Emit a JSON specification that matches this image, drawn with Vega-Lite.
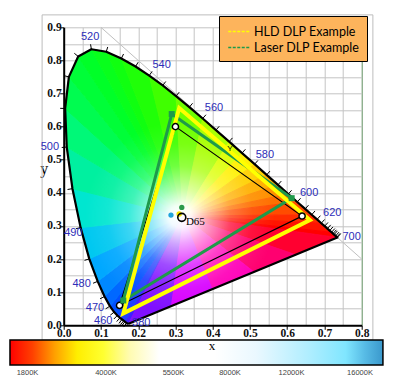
{
  "$schema": "https://vega.github.io/schema/vega-lite/v6.json",
  "width": 298,
  "height": 298,
  "autosize": {"type": "none"},
  "padding": {"left": 63.7, "top": 27.3, "right": 38.3, "bottom": 66.7},
  "background": "white",
  "config": {
    "view": {"stroke": null},
    "axis": {
      "labelFont": "Liberation Serif",
      "labelFontSize": 11.5,
      "labelFontWeight": "bold",
      "labelColor": "#111111",
      "labelPadding": -1.5,
      "labelOverlap": false,
      "labelFlush": false,
      "labelBound": false,
      "tickSize": 4,
      "tickColor": "#000000",
      "domainColor": "#000000",
      "domainWidth": 2,
      "gridWidth": 1
    }
  },
  "datasets": {
    "boxes": [
      {"b":"frame","x":-0.058,"x2":0.83,"y":-0.045,"y2":0.9375},
      {"b":"glow","x":0.0127,"x2":0.6127,"y":-0.0085,"y2":0.6665},
      {"b":"cbar","x":-0.1442,"x2":0.857,"y":-0.0444,"y2":-0.1199}
    ],
    "sectors": [
      {"s":0,"x":0.1644,"y":0.0109,"y2":0.0109},{"s":0,"x":0.1741,"y":0.005,"y2":0.0308},{"s":0,"x":0.32,"y":0.33,"y2":0.33},
      {"s":1,"x":0.144,"y":0.0297,"y2":0.0297},{"s":1,"x":0.1644,"y":0.0109,"y2":0.0645},{"s":1,"x":0.32,"y":0.33,"y2":0.33},
      {"s":2,"x":0.1241,"y":0.0578,"y2":0.0578},{"s":2,"x":0.144,"y":0.0297,"y2":0.0855},{"s":2,"x":0.32,"y":0.33,"y2":0.33},
      {"s":3,"x":0.1096,"y":0.0868,"y2":0.0868},{"s":3,"x":0.1241,"y":0.0578,"y2":0.1036},{"s":3,"x":0.32,"y":0.33,"y2":0.33},
      {"s":4,"x":0.0913,"y":0.1327,"y2":0.1327},{"s":4,"x":0.1096,"y":0.0868,"y2":0.1485},{"s":4,"x":0.32,"y":0.33,"y2":0.33},
      {"s":5,"x":0.0687,"y":0.2007,"y2":0.2007},{"s":5,"x":0.0913,"y":0.1327,"y2":0.2123},{"s":5,"x":0.32,"y":0.33,"y2":0.33},
      {"s":6,"x":0.0454,"y":0.295,"y2":0.295},{"s":6,"x":0.0687,"y":0.2007,"y2":0.298},{"s":6,"x":0.32,"y":0.33,"y2":0.33},
      {"s":7,"x":0.0235,"y":0.4127,"y2":0.4127},{"s":7,"x":0.0454,"y":0.295,"y2":0.4066},{"s":7,"x":0.32,"y":0.33,"y2":0.33},
      {"s":8,"x":0.0082,"y":0.5384,"y2":0.5384},{"s":8,"x":0.0235,"y":0.4127,"y2":0.5282},{"s":8,"x":0.32,"y":0.33,"y2":0.33},
      {"s":9,"x":0.0039,"y":0.6548,"y2":0.6548},{"s":9,"x":0.0082,"y":0.5384,"y2":0.6504},{"s":9,"x":0.32,"y":0.33,"y2":0.33},
      {"s":10,"x":0.0039,"y":0.6548,"y2":0.6548},{"s":10,"x":0.0139,"y":0.7502,"y2":0.6445},{"s":10,"x":0.32,"y":0.33,"y2":0.33},
      {"s":11,"x":0.0139,"y":0.7502,"y2":0.7502},{"s":11,"x":0.0389,"y":0.812,"y2":0.7159},{"s":11,"x":0.32,"y":0.33,"y2":0.33},
      {"s":12,"x":0.0389,"y":0.812,"y2":0.812},{"s":12,"x":0.0743,"y":0.8338,"y2":0.7513},{"s":12,"x":0.32,"y":0.33,"y2":0.33},
      {"s":13,"x":0.0743,"y":0.8338,"y2":0.8338},{"s":13,"x":0.1142,"y":0.8262,"y2":0.752},{"s":13,"x":0.32,"y":0.33,"y2":0.33},
      {"s":14,"x":0.1142,"y":0.8262,"y2":0.8262},{"s":14,"x":0.1547,"y":0.8059,"y2":0.7286},{"s":14,"x":0.32,"y":0.33,"y2":0.33},
      {"s":15,"x":0.1547,"y":0.8059,"y2":0.8059},{"s":15,"x":0.2296,"y":0.7543,"y2":0.5903},{"s":15,"x":0.32,"y":0.33,"y2":0.33},
      {"s":16,"x":0.2296,"y":0.7543,"y2":0.7543},{"s":16,"x":0.3016,"y":0.6923,"y2":0.4164},{"s":16,"x":0.32,"y":0.33,"y2":0.33},
      {"s":17,"x":0.3016,"y":0.6923,"y2":0.6923},{"s":17,"x":0.32,"y":0.33,"y2":0.6749},{"s":17,"x":0.3731,"y":0.6245,"y2":0.6245},
      {"s":18,"x":0.32,"y":0.33,"y2":0.33},{"s":18,"x":0.3731,"y":0.6245,"y2":0.4261},{"s":18,"x":0.4441,"y":0.5547,"y2":0.5547},
      {"s":19,"x":0.32,"y":0.33,"y2":0.33},{"s":19,"x":0.4441,"y":0.5547,"y2":0.4786},{"s":19,"x":0.4788,"y":0.5202,"y2":0.5202},
      {"s":20,"x":0.32,"y":0.33,"y2":0.33},{"s":20,"x":0.4788,"y":0.5202,"y2":0.4592},{"s":20,"x":0.5125,"y":0.4866,"y2":0.4866},
      {"s":21,"x":0.32,"y":0.33,"y2":0.33},{"s":21,"x":0.5125,"y":0.4866,"y2":0.4365},{"s":21,"x":0.5448,"y":0.4544,"y2":0.4544},
      {"s":22,"x":0.32,"y":0.33,"y2":0.33},{"s":22,"x":0.5448,"y":0.4544,"y2":0.413},{"s":22,"x":0.5752,"y":0.4242,"y2":0.4242},
      {"s":23,"x":0.32,"y":0.33,"y2":0.33},{"s":23,"x":0.5752,"y":0.4242,"y2":0.39},{"s":23,"x":0.6029,"y":0.3965,"y2":0.3965},
      {"s":24,"x":0.32,"y":0.33,"y2":0.33},{"s":24,"x":0.6029,"y":0.3965,"y2":0.3692},{"s":24,"x":0.627,"y":0.3725,"y2":0.3725},
      {"s":25,"x":0.32,"y":0.33,"y2":0.33},{"s":25,"x":0.627,"y":0.3725,"y2":0.3336},{"s":25,"x":0.6658,"y":0.334,"y2":0.334},
      {"s":26,"x":0.32,"y":0.33,"y2":0.33},{"s":26,"x":0.6658,"y":0.334,"y2":0.3098},{"s":26,"x":0.6915,"y":0.3083,"y2":0.3083},
      {"s":27,"x":0.32,"y":0.33,"y2":0.33},{"s":27,"x":0.6915,"y":0.3083,"y2":0.2843},{"s":27,"x":0.719,"y":0.2809,"y2":0.2809},
      {"s":28,"x":0.32,"y":0.33,"y2":0.33},{"s":28,"x":0.719,"y":0.2809,"y2":0.2677},{"s":28,"x":0.7347,"y":0.2653,"y2":0.2653},
      {"s":29,"x":0.32,"y":0.33,"y2":0.33},{"s":29,"x":0.6226,"y":0.2132,"y2":0.2828},{"s":29,"x":0.7347,"y":0.2653,"y2":0.2653},
      {"s":30,"x":0.32,"y":0.33,"y2":0.33},{"s":30,"x":0.5105,"y":0.1612,"y2":0.2565},{"s":30,"x":0.6226,"y":0.2132,"y2":0.2132},
      {"s":31,"x":0.32,"y":0.33,"y2":0.33},{"s":31,"x":0.3983,"y":0.1091,"y2":0.2606},{"s":31,"x":0.5105,"y":0.1612,"y2":0.1612},
      {"s":32,"x":0.2862,"y":0.0571,"y2":0.0571},{"s":32,"x":0.32,"y":0.33,"y2":0.0728},{"s":32,"x":0.3983,"y":0.1091,"y2":0.1091},
      {"s":33,"x":0.1741,"y":0.005,"y2":0.005},{"s":33,"x":0.2862,"y":0.0571,"y2":0.2547},{"s":33,"x":0.32,"y":0.33,"y2":0.33}
    ],
    "locus": [
      {"wl":380,"x":0.1741,"y":0.005},{"wl":420,"x":0.1714,"y":0.0051},{"wl":430,"x":0.1689,"y":0.0069},{"wl":440,"x":0.1644,"y":0.0109},
      {"wl":445,"x":0.1611,"y":0.0138},{"wl":450,"x":0.1566,"y":0.0177},{"wl":455,"x":0.151,"y":0.0227},{"wl":460,"x":0.144,"y":0.0297},
      {"wl":465,"x":0.1355,"y":0.0399},{"wl":470,"x":0.1241,"y":0.0578},{"wl":475,"x":0.1096,"y":0.0868},{"wl":480,"x":0.0913,"y":0.1327},
      {"wl":485,"x":0.0687,"y":0.2007},{"wl":490,"x":0.0454,"y":0.295},{"wl":495,"x":0.0235,"y":0.4127},{"wl":500,"x":0.0082,"y":0.5384},
      {"wl":505,"x":0.0039,"y":0.6548},{"wl":510,"x":0.0139,"y":0.7502},{"wl":515,"x":0.0389,"y":0.812},{"wl":520,"x":0.0743,"y":0.8338},
      {"wl":525,"x":0.1142,"y":0.8262},{"wl":530,"x":0.1547,"y":0.8059},{"wl":535,"x":0.1929,"y":0.7816},{"wl":540,"x":0.2296,"y":0.7543},
      {"wl":545,"x":0.2658,"y":0.7243},{"wl":550,"x":0.3016,"y":0.6923},{"wl":555,"x":0.3373,"y":0.6589},{"wl":560,"x":0.3731,"y":0.6245},
      {"wl":565,"x":0.4087,"y":0.5896},{"wl":570,"x":0.4441,"y":0.5547},{"wl":575,"x":0.4788,"y":0.5202},{"wl":580,"x":0.5125,"y":0.4866},
      {"wl":585,"x":0.5448,"y":0.4544},{"wl":590,"x":0.5752,"y":0.4242},{"wl":595,"x":0.6029,"y":0.3965},{"wl":600,"x":0.627,"y":0.3725},
      {"wl":605,"x":0.6482,"y":0.3514},{"wl":610,"x":0.6658,"y":0.334},{"wl":615,"x":0.6801,"y":0.3197},{"wl":620,"x":0.6915,"y":0.3083},
      {"wl":625,"x":0.7006,"y":0.2993},{"wl":630,"x":0.7079,"y":0.292},{"wl":635,"x":0.714,"y":0.2859},{"wl":640,"x":0.719,"y":0.2809},
      {"wl":645,"x":0.723,"y":0.277},{"wl":650,"x":0.726,"y":0.274},{"wl":660,"x":0.73,"y":0.27},{"wl":670,"x":0.732,"y":0.268},
      {"wl":680,"x":0.7334,"y":0.2666},{"wl":700,"x":0.7347,"y":0.2653},{"wl":1000,"x":0.1741,"y":0.005}
    ],
    "ticks": [
      {"wl":430,"x":0.1689,"y":0.0069,"x2":0.1609,"y2":-0.0053},{"wl":440,"x":0.1644,"y":0.0109,"x2":0.1561,"y2":-0.001},
      {"wl":445,"x":0.1611,"y":0.0138,"x2":0.1529,"y2":0.0019},{"wl":450,"x":0.1566,"y":0.0177,"x2":0.1483,"y2":0.0058},
      {"wl":455,"x":0.151,"y":0.0227,"x2":0.1423,"y2":0.0112},{"wl":460,"x":0.144,"y":0.0297,"x2":0.1346,"y2":0.0189},
      {"wl":465,"x":0.1355,"y":0.0399,"x2":0.125,"y2":0.0305},{"wl":470,"x":0.1241,"y":0.0578,"x2":0.1127,"y2":0.0498},
      {"wl":475,"x":0.1096,"y":0.0868,"x2":0.0976,"y2":0.0801},{"wl":480,"x":0.0913,"y":0.1327,"x2":0.0789,"y2":0.127},
      {"wl":485,"x":0.0687,"y":0.2007,"x2":0.0559,"y2":0.1961},{"wl":490,"x":0.0454,"y":0.295,"x2":0.0324,"y2":0.2915},
      {"wl":495,"x":0.0235,"y":0.4127,"x2":0.0103,"y2":0.4101},{"wl":500,"x":0.0082,"y":0.5384,"x2":-0.0052,"y2":0.537},
      {"wl":505,"x":0.0039,"y":0.6548,"x2":-0.0095,"y2":0.6553},{"wl":510,"x":0.0139,"y":0.7502,"x2":0.0009,"y2":0.7539},
      {"wl":515,"x":0.0389,"y":0.812,"x2":0.0285,"y2":0.8215},{"wl":520,"x":0.0743,"y":0.8338,"x2":0.0721,"y2":0.8487},
      {"wl":525,"x":0.1142,"y":0.8262,"x2":0.1182,"y2":0.8406},{"wl":530,"x":0.1547,"y":0.8059,"x2":0.1607,"y2":0.8194},
      {"wl":535,"x":0.1929,"y":0.7816,"x2":0.1999,"y2":0.7945},{"wl":540,"x":0.2296,"y":0.7543,"x2":0.2373,"y2":0.7667},
      {"wl":545,"x":0.2658,"y":0.7243,"x2":0.274,"y2":0.7363},{"wl":550,"x":0.3016,"y":0.6923,"x2":0.3101,"y2":0.704},
      {"wl":555,"x":0.3373,"y":0.6589,"x2":0.3459,"y2":0.6705},{"wl":560,"x":0.3731,"y":0.6245,"x2":0.3819,"y2":0.6359},
      {"wl":565,"x":0.4087,"y":0.5896,"x2":0.4175,"y2":0.601},{"wl":570,"x":0.4441,"y":0.5547,"x2":0.453,"y2":0.566},
      {"wl":575,"x":0.4788,"y":0.5202,"x2":0.4877,"y2":0.5315},{"wl":580,"x":0.5125,"y":0.4866,"x2":0.5214,"y2":0.4979},
      {"wl":585,"x":0.5448,"y":0.4544,"x2":0.5537,"y2":0.4657},{"wl":590,"x":0.5752,"y":0.4242,"x2":0.5841,"y2":0.4355},
      {"wl":595,"x":0.6029,"y":0.3965,"x2":0.6118,"y2":0.4078},{"wl":600,"x":0.627,"y":0.3725,"x2":0.6359,"y2":0.3838},
      {"wl":605,"x":0.6482,"y":0.3514,"x2":0.6571,"y2":0.3627},{"wl":610,"x":0.6658,"y":0.334,"x2":0.6747,"y2":0.3453},
      {"wl":615,"x":0.6801,"y":0.3197,"x2":0.689,"y2":0.331},{"wl":620,"x":0.6915,"y":0.3083,"x2":0.7004,"y2":0.3196},
      {"wl":625,"x":0.7006,"y":0.2993,"x2":0.7095,"y2":0.3106},{"wl":630,"x":0.7079,"y":0.292,"x2":0.7168,"y2":0.3033},
      {"wl":635,"x":0.714,"y":0.2859,"x2":0.7229,"y2":0.2972},{"wl":640,"x":0.719,"y":0.2809,"x2":0.7279,"y2":0.2922},
      {"wl":645,"x":0.723,"y":0.277,"x2":0.7319,"y2":0.2883},{"wl":650,"x":0.726,"y":0.274,"x2":0.7349,"y2":0.2853},
      {"wl":660,"x":0.73,"y":0.27,"x2":0.7389,"y2":0.2813},{"wl":680,"x":0.7334,"y":0.2666,"x2":0.7423,"y2":0.2779},
      {"wl":700,"x":0.7347,"y":0.2653,"x2":0.7436,"y2":0.2766}
    ],
    "wlLabels": [
      {"t":"520","x":0.071,"y":0.871},{"t":"540","x":0.263,"y":0.786},{"t":"560","x":0.4035,"y":0.656},
      {"t":"580","x":0.54,"y":0.514},{"t":"600","x":0.659,"y":0.399},{"t":"620","x":0.721,"y":0.338},
      {"t":"700","x":0.773,"y":0.266},{"t":"500","x":-0.037,"y":0.539},{"t":"490","x":0.026,"y":0.278},
      {"t":"480","x":0.048,"y":0.125},{"t":"470","x":0.084,"y":0.051},{"t":"460","x":0.106,"y":0.014},
      {"t":"380","x":0.208,"y":0.007}
    ],
    "gamuts": [
      {"g":"Laser DLP Example","o":1,"x":0.29,"y":0.638},{"g":"Laser DLP Example","o":2,"x":0.612,"y":0.384},{"g":"Laser DLP Example","o":3,"x":0.16,"y":0.075},
      {"g":"HLD DLP Example","o":1,"x":0.31,"y":0.656},{"g":"HLD DLP Example","o":2,"x":0.661,"y":0.318},{"g":"HLD DLP Example","o":3,"x":0.16,"y":0.036},
      {"g":"sRGB","o":1,"x":0.3,"y":0.6},{"g":"sRGB","o":2,"x":0.64,"y":0.33},{"g":"sRGB","o":3,"x":0.15,"y":0.06}
    ],
    "whites": [
      {"k":"blue","x":0.288,"y":0.333},{"k":"green","x":0.317,"y":0.356},{"k":"yellow","x":0.31,"y":0.336},{"k":"D65","x":0.317,"y":0.326}
    ],
    "cbLabels": [
      {"t":"1800K","x":-0.0972,"y":-0.1432},{"t":"4000K","x":0.1136,"y":-0.1432},{"t":"5500K","x":0.2948,"y":-0.1432},
      {"t":"8000K","x":0.4464,"y":-0.1432},{"t":"12000K","x":0.6116,"y":-0.1432},{"t":"16000K","x":0.7954,"y":-0.1432}
    ]
  },
  "encoding": {
    "x": {
      "field": "x", "type": "quantitative",
      "scale": {"domain": [0, 0.8], "nice": false, "zero": false},
      "axis": {
        "title": null,
        "values": [0,0.05,0.1,0.15,0.2,0.25,0.3,0.35,0.4,0.45,0.5,0.55,0.6,0.65,0.7,0.75,0.8],
        "labelExpr": "round(datum.value*100) % 10 == 0 ? format(datum.value, '.1f') : ''",
        "tickOpacity": {"condition": {"test": "round(datum.value*100) % 10 != 0", "value": 0}, "value": 1},
        "gridColor": {"condition": {"test": "datum.value > 0.79", "value": "#5f8f5f"}, "value": "#c4c4c4"}
      }
    },
    "y": {
      "field": "y", "type": "quantitative",
      "scale": {"domain": [0, 0.9], "nice": false, "zero": false},
      "axis": {
        "title": "y",
        "titleAngle": 0,
        "titleFont": "Liberation Serif",
        "titleFontSize": 16,
        "titleFontWeight": "normal",
        "titleColor": "#000000",
        "titlePadding": 3,
        "values": [0,0.05,0.1,0.15,0.2,0.25,0.3,0.35,0.4,0.45,0.5,0.55,0.6,0.65,0.7,0.75,0.8,0.85,0.9],
        "labelExpr": "round(datum.value*100) % 10 == 0 ? format(datum.value, '.1f') : ''",
        "tickOpacity": {"condition": {"test": "round(datum.value*100) % 10 != 0", "value": 0}, "value": 1},
        "gridColor": "#c4c4c4"
      }
    }
  },
  "layer": [
    {
      "data": {"name": "boxes"},
      "transform": [{"filter": "datum.b == 'frame'"}],
      "mark": {"type": "rect", "fill": null, "fillOpacity": 0, "stroke": "#bdbdbd", "strokeWidth": 1},
      "encoding": {"x2": {"field": "x2"}, "y2": {"field": "y2"}}
    },
    {
      "data": {"values": [{"x": 0.1, "y": 0.9}, {"x": 0.8, "y": 0.2}]},
      "mark": {"type": "line", "color": "#c0c0c0", "strokeWidth": 1},
      "encoding": {}
    },
    {
      "data": {"name": "sectors"},
      "mark": {"type": "area", "strokeWidth": 1, "interpolate": "linear"},
      "encoding": {
        "y": {"field": "y", "type": "quantitative", "stack": null},
        "y2": {"field": "y2"},
        "fill": {"field": "s", "type": "nominal", "legend": null,
          "scale": {"domain": [0,1,2,3,4,5,6,7,8,9,10,11,12,13,14,15,16,17,18,19,20,21,22,23,24,25,26,27,28,29,30,31,32,33],
            "range": ["#4020ff","#2040ff","#0050ff","#0068ff","#0088ff","#00a8ff","#00c8f0","#00e6d0","#00f0a0","#00f878","#00fc50","#00fe38","#00ff28","#08ff1c","#10ff10","#20ff08","#40ff00","#70ff00","#a8ff00","#dcff00","#fff000","#ffd000","#ffb000","#ff9000","#ff7000","#ff4c00","#ff2c00","#ff1400","#ff0000","#ff0030","#ff0070","#ff00b8","#d800ff","#8010ff"]}},
        "stroke": {"field": "s", "type": "nominal", "legend": null,
          "scale": {"domain": [0,1,2,3,4,5,6,7,8,9,10,11,12,13,14,15,16,17,18,19,20,21,22,23,24,25,26,27,28,29,30,31,32,33],
            "range": ["#4020ff","#2040ff","#0050ff","#0068ff","#0088ff","#00a8ff","#00c8f0","#00e6d0","#00f0a0","#00f878","#00fc50","#00fe38","#00ff28","#08ff1c","#10ff10","#20ff08","#40ff00","#70ff00","#a8ff00","#dcff00","#fff000","#ffd000","#ffb000","#ff9000","#ff7000","#ff4c00","#ff2c00","#ff1400","#ff0000","#ff0030","#ff0070","#ff00b8","#d800ff","#8010ff"]}}
      }
    },
    {
      "data": {"name": "boxes"},
      "transform": [{"filter": "datum.b == 'glow'"}],
      "mark": {"type": "rect", "fill": {"gradient": "radial", "x1": 0.5, "y1": 0.5, "r1": 0, "x2": 0.5, "y2": 0.5, "r2": 0.5,
        "stops": [
          {"offset": 0, "color": "rgba(255,255,255,1)"},
          {"offset": 0.1, "color": "rgba(255,255,255,0.95)"},
          {"offset": 0.25, "color": "rgba(255,255,255,0.62)"},
          {"offset": 0.45, "color": "rgba(255,255,255,0.25)"},
          {"offset": 0.65, "color": "rgba(255,255,255,0.07)"},
          {"offset": 0.85, "color": "rgba(255,255,255,0)"}
        ]}},
      "encoding": {"x2": {"field": "x2"}, "y2": {"field": "y2"}}
    },
    {
      "data": {"name": "locus"},
      "mark": {"type": "line", "color": "#000000", "strokeWidth": 2.2, "strokeJoin": "round"},
      "encoding": {"order": {"field": "wl", "type": "quantitative"}}
    },
    {
      "data": {"name": "ticks"},
      "mark": {"type": "rule", "color": "#000000", "strokeWidth": 1},
      "encoding": {"x2": {"field": "x2"}, "y2": {"field": "y2"}}
    },
    {
      "data": {"name": "gamuts"},
      "transform": [{"filter": "datum.g == 'sRGB'"}],
      "mark": {"type": "line", "color": "#000000", "strokeWidth": 1.2, "interpolate": "linear-closed"},
      "encoding": {"order": {"field": "o", "type": "quantitative"}}
    },
    {
      "data": {"name": "gamuts"},
      "transform": [{"filter": "datum.g == 'Laser DLP Example'"}],
      "mark": {"type": "line", "strokeWidth": 3, "interpolate": "linear-closed"},
      "encoding": {
        "order": {"field": "o", "type": "quantitative"},
        "color": {"field": "g", "type": "nominal",
          "scale": {"domain": ["HLD DLP Example", "Laser DLP Example"], "range": ["#ffff00", "#1e9a4a"]},
          "legend": {"title": null, "orient": "none", "legendX": 155.3, "legendY": -11.3,
            "fillColor": "#fdb45c", "strokeColor": "#000000", "padding": 7,
            "symbolType": "M-1.5,0L1.5,0", "symbolStrokeWidth": 1.5, "symbolDash": [3, 1.5], "symbolSize": 225, "symbolOffset": 5,
            "labelFont": "Lato", "labelFontSize": 12.5, "labelColor": "#000000", "labelOffset": 6, "rowPadding": 1}}
      }
    },
    {
      "data": {"name": "gamuts"},
      "transform": [{"filter": "datum.g == 'HLD DLP Example'"}],
      "mark": {"type": "line", "strokeWidth": 4, "interpolate": "linear-closed"},
      "encoding": {
        "order": {"field": "o", "type": "quantitative"},
        "color": {"field": "g", "type": "nominal",
          "scale": {"domain": ["HLD DLP Example", "Laser DLP Example"], "range": ["#ffff00", "#1e9a4a"]}}
      }
    },
    {
      "data": {"name": "gamuts"},
      "transform": [{"filter": "datum.g == 'sRGB'"}],
      "mark": {"type": "point", "shape": "circle", "filled": true, "fill": "#ffffff", "stroke": "#000000", "strokeWidth": 1.5, "size": 38, "opacity": 1}
    },
    {
      "data": {"name": "gamuts"},
      "transform": [{"filter": "datum.g == 'Laser DLP Example'"}],
      "mark": {"type": "square", "color": "#1e9a4a", "size": 36, "opacity": 1}
    },
    {
      "data": {"name": "whites"},
      "transform": [{"filter": "datum.k == 'blue'"}],
      "mark": {"type": "circle", "size": 28, "color": "#20a4dc", "opacity": 1}
    },
    {
      "data": {"name": "whites"},
      "transform": [{"filter": "datum.k == 'green'"}],
      "mark": {"type": "circle", "size": 28, "color": "#2b9b49", "opacity": 1}
    },
    {
      "data": {"name": "whites"},
      "transform": [{"filter": "datum.k == 'yellow'"}],
      "mark": {"type": "circle", "size": 30, "color": "#f4e400", "opacity": 1}
    },
    {
      "data": {"name": "whites"},
      "transform": [{"filter": "datum.k == 'D65'"}],
      "mark": {"type": "point", "shape": "circle", "filled": false, "color": "#000000", "strokeWidth": 1.6, "size": 64, "opacity": 1}
    },
    {
      "data": {"name": "wlLabels"},
      "mark": {"type": "text", "font": "Liberation Sans", "fontSize": 11, "color": "#2d2db8", "align": "center", "baseline": "middle"},
      "encoding": {"text": {"field": "t"}}
    },
    {
      "data": {"values": [{"t": "D65", "x": 0.328, "y": 0.312}]},
      "mark": {"type": "text", "font": "Liberation Serif", "fontSize": 11, "color": "#000000", "align": "left", "baseline": "middle"},
      "encoding": {"text": {"field": "t"}}
    },
    {
      "data": {"values": [{"t": "Y", "x": 0.4465, "y": 0.533}]},
      "mark": {"type": "text", "font": "Liberation Sans", "fontSize": 8, "color": "#000000", "align": "center", "baseline": "middle"},
      "encoding": {"text": {"field": "t"}}
    },
    {
      "data": {"name": "boxes"},
      "transform": [{"filter": "datum.b == 'cbar'"}],
      "mark": {"type": "rect", "stroke": "#000000", "strokeWidth": 1.5,
        "fill": {"gradient": "linear", "x1": 0, "y1": 0, "x2": 1, "y2": 0,
          "stops": [
            {"offset": 0, "color": "#ff0000"},
            {"offset": 0.06, "color": "#ff4000"},
            {"offset": 0.12, "color": "#ffa000"},
            {"offset": 0.18, "color": "#ffee00"},
            {"offset": 0.25, "color": "#ffff30"},
            {"offset": 0.32, "color": "#fffbb0"},
            {"offset": 0.4, "color": "#ffffff"},
            {"offset": 0.55, "color": "#ffffff"},
            {"offset": 0.66, "color": "#eaf8ff"},
            {"offset": 0.8, "color": "#b0eeff"},
            {"offset": 0.9, "color": "#80e6ff"},
            {"offset": 0.95, "color": "#58bce6"},
            {"offset": 1, "color": "#3a98cc"}
          ]}},
      "encoding": {"x2": {"field": "x2"}, "y2": {"field": "y2"}}
    },
    {
      "data": {"name": "cbLabels"},
      "mark": {"type": "text", "font": "Liberation Sans", "fontSize": 7.5, "color": "#444444", "align": "center", "baseline": "middle"},
      "encoding": {"text": {"field": "t"}}
    },
    {
      "data": {"values": [{"t": "x", "x": 0.398, "y": -0.0746}]},
      "mark": {"type": "text", "font": "Liberation Serif", "fontSize": 13, "color": "#000000", "align": "center", "baseline": "alphabetic"},
      "encoding": {"text": {"field": "t"}}
    }
  ],
  "resolve": {"scale": {"fill": "independent", "stroke": "independent"}}
}
